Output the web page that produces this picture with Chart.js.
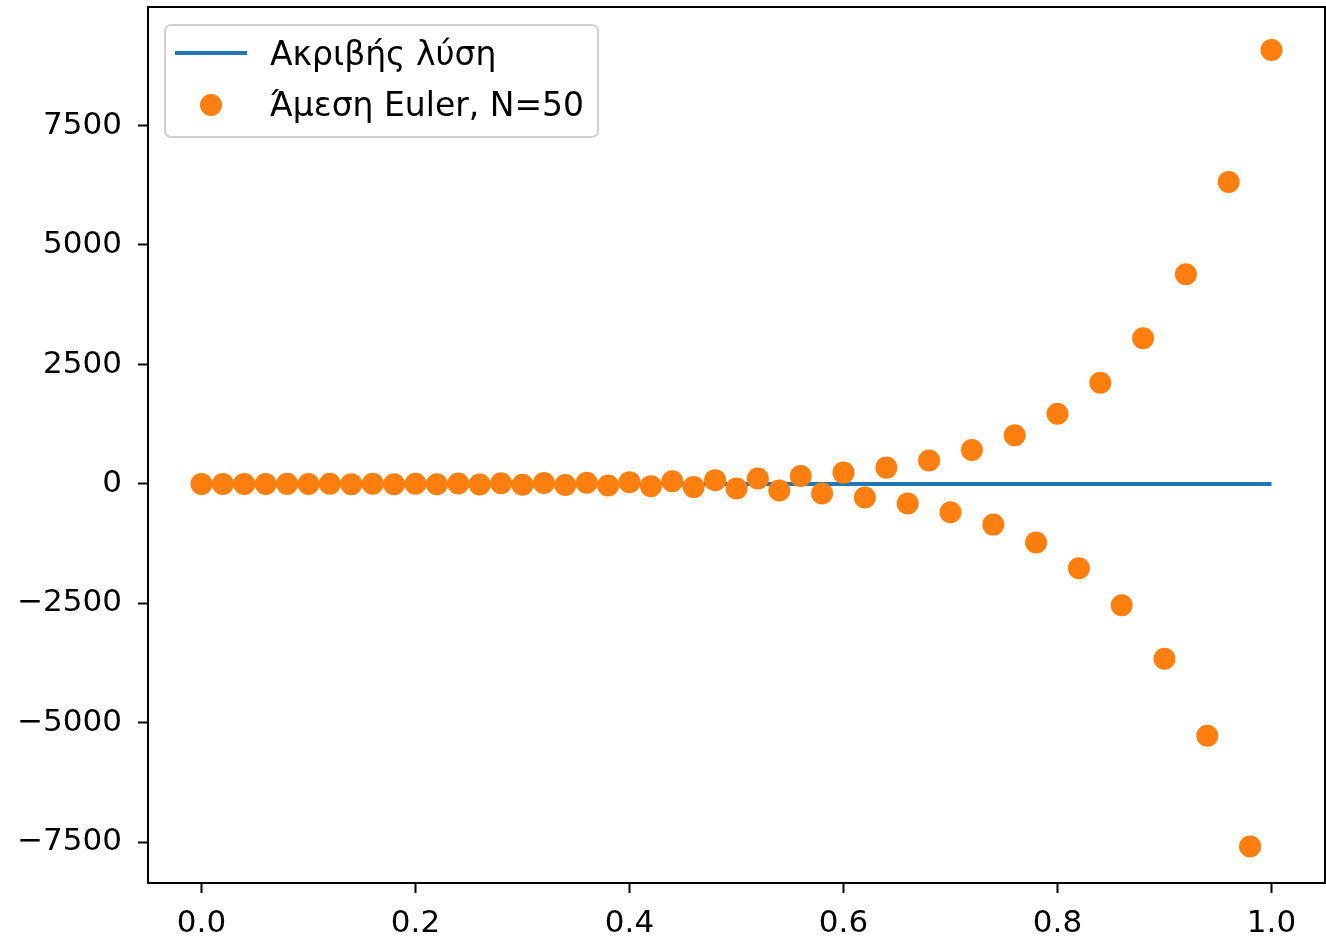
<!DOCTYPE html>
<html lang="el">
<head>
    <meta charset="UTF-8">
    <title>Άμεση Euler</title>
    <script src="https://cdn.jsdelivr.net/npm/chart.js"></script>
    <style>
        html, body { margin: 0; padding: 0; background: #fff; }
        #wrap { width: 1326px; height: 942px; position: relative; }
    </style>
</head>
<body>
<div id="wrap"><canvas id="eulerChart"></canvas></div>
<script>
    // exact solution (practically zero on the whole interval)
    const exactX = [0, 0.25, 0.5, 0.75, 1.0];
    const exactY = [1, 0, 0, 0, 0];

    // explicit Euler, N=50
    const eulerX = [0.00, 0.02, 0.04, 0.06, 0.08, 0.10, 0.12, 0.14, 0.16, 0.18,
                    0.20, 0.22, 0.24, 0.26, 0.28, 0.30, 0.32, 0.34, 0.36, 0.38,
                    0.40, 0.42, 0.44, 0.46, 0.48, 0.50, 0.52, 0.54, 0.56, 0.58,
                    0.60, 0.62, 0.64, 0.66, 0.68, 0.70, 0.72, 0.74, 0.76, 0.78,
                    0.80, 0.82, 0.84, 0.86, 0.88, 0.90, 0.92, 0.94, 0.96, 0.98, 1.00];
    const eulerY = [1, -1, 1, -2, 2, -2, 3, -4, 4, -5,
                    6, -7, 9, -11, 13, -15, 18, -22, 27, -32,
                    38, -46, 55, -66, 80, -95, 115, -137, 165, -198,
                    237, -285, 342, -410, 492, -591, 709, -851, 1021, -1225,
                    1470, -1764, 2117, -2540, 3048, -3657, 4389, -5267, 6320, -7584, 9080];

    const xTicks = [0.0, 0.2, 0.4, 0.6, 0.8, 1.0];
    const yTicks = [-7500, -5000, -2500, 0, 2500, 5000, 7500];

    const seriesLabels = ['Ακριβής λύση', 'Άμεση Euler, N=50'];

    const FONT = '"DejaVu Sans", sans-serif';
    const FS = 31;

    const framePlugin = {
        id: 'frame',
        afterDraw(chart) {
            const { ctx, chartArea: a } = chart;
            ctx.save();
            ctx.strokeStyle = '#000';
            ctx.lineWidth = 2;
            ctx.strokeRect(a.left, a.top, a.right - a.left, a.bottom - a.top);
            ctx.restore();
        }
    };

    const legendPlugin = {
        id: 'mplLegend',
        afterDraw(chart) {
            const ctx = chart.ctx;
            const x = 165, y = 25, w = 433, h = 112;
            ctx.save();
            ctx.fillStyle = 'rgba(255,255,255,0.8)';
            ctx.strokeStyle = '#d0d0d0';
            ctx.lineWidth = 2;
            ctx.beginPath();
            ctx.roundRect(x, y, w, h, 6);
            ctx.fill();
            ctx.stroke();

            // line handle
            ctx.strokeStyle = '#1f77b4';
            ctx.lineWidth = 4;
            ctx.beginPath();
            ctx.moveTo(175, 53);
            ctx.lineTo(247, 53);
            ctx.stroke();

            // marker handle
            ctx.fillStyle = '#ff7f0e';
            ctx.beginPath();
            ctx.arc(211, 105, 11, 0, Math.PI * 2);
            ctx.fill();

            ctx.fillStyle = '#000';
            ctx.font = '33px ' + FONT;
            ctx.textBaseline = 'middle';
            ctx.textAlign = 'left';
            ctx.fillText(seriesLabels[0], 270, 56);
            ctx.fillText(seriesLabels[1], 270, 107);
            ctx.restore();
        }
    };

    const noPad = s => { s.paddingLeft = 0; s.paddingRight = 0; s.paddingTop = 0; s.paddingBottom = 0; };

    const ctx = document.getElementById('eulerChart').getContext('2d');
    new Chart(ctx, {
        type: 'scatter',
        data: {
            datasets: [{
                label: seriesLabels[0],
                type: 'line',
                data: exactX.map((v, i) => ({ x: v, y: exactY[i] })),
                borderColor: '#1f77b4',
                borderWidth: 4,
                pointRadius: 0,
                fill: false,
                tension: 0,
                order: 2
            }, {
                label: seriesLabels[1],
                data: eulerX.map((v, i) => ({ x: v, y: eulerY[i] })),
                backgroundColor: '#ff7f0e',
                borderWidth: 0,
                pointRadius: 11,
                pointHoverRadius: 11,
                order: 1
            }]
        },
        options: {
            responsive: true,
            maintainAspectRatio: false,
            animation: false,
            events: [],
            layout: { autoPadding: false, padding: { left: 0, top: 7, right: 1, bottom: 0 } },
            plugins: { legend: { display: false }, tooltip: { enabled: false } },
            scales: {
                x: {
                    type: 'linear',
                    min: -0.05,
                    max: 1.05,
                    afterBuildTicks: s => { s.ticks = xTicks.map(v => ({ value: v })); },
                    afterFit: s => { s.height = 59; noPad(s); },
                    grid: { drawOnChartArea: false, color: '#000', tickLength: 10, tickWidth: 2 },
                    border: { color: '#000', width: 2 },
                    ticks: {
                        color: '#000',
                        font: { family: FONT, size: FS },
                        padding: 12,
                        maxRotation: 0,
                        callback: v => v.toFixed(1)
                    }
                },
                y: {
                    type: 'linear',
                    min: -8350,
                    max: 9980,
                    afterBuildTicks: s => { s.ticks = yTicks.map(v => ({ value: v })); },
                    afterFit: s => { s.width = 148; noPad(s); },
                    grid: { drawOnChartArea: false, color: '#000', tickLength: 10, tickWidth: 2 },
                    border: { color: '#000', width: 2 },
                    ticks: {
                        color: '#000',
                        font: { family: FONT, size: FS },
                        padding: 16,
                        callback: v => (v < 0 ? '\u2212' + Math.abs(v) : String(v))
                    }
                }
            }
        },
        plugins: [framePlugin, legendPlugin]
    });
</script>
</body>
</html>
